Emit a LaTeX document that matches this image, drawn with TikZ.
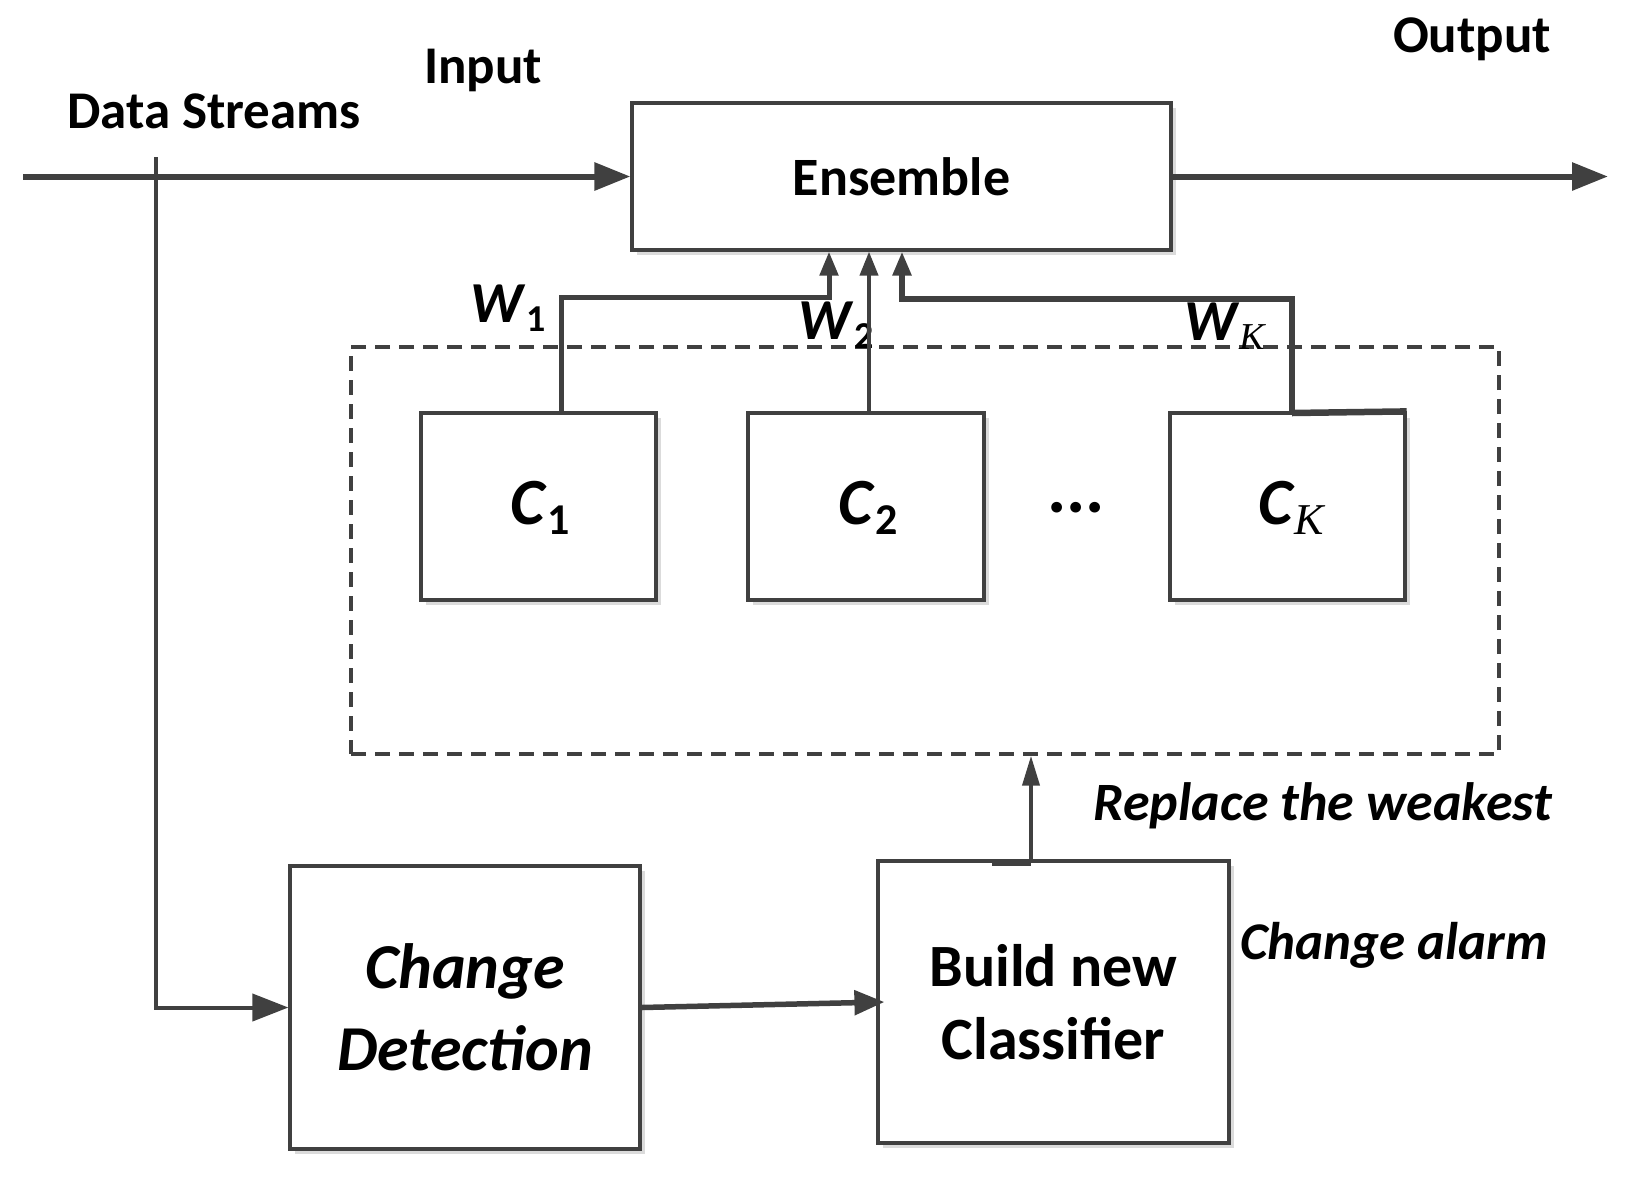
\documentclass[tikz,border=0pt]{standalone}
\usepackage{fontspec}
\setmainfont{Carlito}
\newfontfamily\tms{Liberation Serif}
\usetikzlibrary{arrows.meta,calc,shadows}
\definecolor{ln}{HTML}{404040}
\tikzset{
  x=1pt, y=-1pt,
  box/.style={draw=ln, line width=3.2pt, fill=white, inner sep=0pt,
    drop shadow={shadow xshift=5pt, shadow yshift=-5pt, fill=black!14, opacity=1}},
  conn/.style={draw=ln, line width=5pt},
  big/.style={-{Triangle[length=36pt,width=27pt]}},
  warr/.style={-{Triangle[length=24pt,width=18pt]}},
  lbl/.style={inner sep=0pt, text=black},
}
\begin{document}
\begin{tikzpicture}
\useasboundingbox (0,0) rectangle (1646,1179);
% dashed pool
\node[draw=ln, line width=3.4pt, dash pattern=on 15pt off 9pt, minimum width=1148pt, minimum height=407pt, inner sep=0pt] (pool) at (925,550.5) {};
% boxes
\node[box, minimum width=539pt, minimum height=147pt, font=\fontsize{54}{60}\selectfont\bfseries] (ens) at (901.5,176.5) {Ensemble};
\node[box, minimum width=235pt, minimum height=187pt] (c1) at (538.5,506.5) {};
\node[box, minimum width=236pt, minimum height=187pt] (c2) at (866,506.5) {};
\node[box, minimum width=235pt, minimum height=187pt] (ck) at (1287.5,506.5) {};
\node[box, minimum width=350pt, minimum height=283pt, align=center, font=\fontsize{64}{82}\selectfont\bfseries\itshape] (cd) at (465,1007.5) {Change\\Detection};
\node[box, minimum width=351pt, minimum height=282pt, align=center, font=\fontsize{60}{73}\selectfont\bfseries] (bld) at (1053.5,1002) {Build new\\Classifier};
% classifier labels
\node[lbl, font=\fontsize{66}{70}\selectfont\bfseries] (l1) at (540,508) {\textit{C}\raisebox{-0.16em}{\fontsize{44}{44}\selectfont 1}};
\node[lbl, font=\fontsize{66}{70}\selectfont\bfseries] (l2) at (868,508) {\textit{C}\raisebox{-0.16em}{\fontsize{44}{44}\selectfont 2}};
\node[lbl, font=\fontsize{66}{70}\selectfont\bfseries] (lk) at (1291,508) {\textit{C}\raisebox{-0.16em}{\fontsize{44}{44}\selectfont\tms\mdseries\itshape K}};
\node[lbl, font=\fontsize{72}{72}\selectfont\bfseries] (dots) at (1076,508) {...};
% text labels
\node[lbl, font=\fontsize{53}{60}\selectfont\bfseries] (tds) at (214,111) {Data Streams};
\node[lbl, font=\fontsize{53}{60}\selectfont\bfseries] (tin) at (483,70) {Input};
\node[lbl, font=\fontsize{53}{60}\selectfont\bfseries] (tout) at (1472,39) {Output};
\node[lbl, font=\fontsize{54}{60}\selectfont\bfseries\itshape] (trep) at (1323,806) {Replace the weakest};
\node[lbl, font=\fontsize{53}{60}\selectfont\bfseries\itshape] (talarm) at (1394,945) {Change alarm};
\node[lbl, font=\fontsize{58}{60}\selectfont\bfseries] (w1) at (508,308) {\textit{W}\raisebox{-0.16em}{\fontsize{38}{38}\selectfont 1}};
\node[lbl, font=\fontsize{58}{60}\selectfont\bfseries] (w2) at (836,325) {\textit{W}\raisebox{-0.16em}{\fontsize{38}{38}\selectfont 2}};
\node[lbl, font=\fontsize{58}{60}\selectfont\bfseries] (wk) at (1225,326) {\textit{W}\raisebox{-0.16em}{\fontsize{38}{38}\selectfont\tms\mdseries\itshape K}};
% coordinates
\coordinate (in) at (23,176.5);
\coordinate (out) at (1608,176.5);
\coordinate (ds) at (156,157);
\coordinate (t1) at (829,297);
\coordinate (tk) at (902,299);
\coordinate (ckr) at (1292,413);
\coordinate (rp) at (1031,862);
\coordinate (rps) at (992,862);
% connectors
\draw[conn, line width=6pt, big] (in) -- (ens.west);
\draw[conn, line width=6pt, big] (ens.east) -- (out);
\draw[conn, line width=4pt, big] (ds) |- (cd.west);
\draw[conn, line width=5.5pt, -{Triangle[length=30pt,width=24pt]}] (cd.east) -- ([xshift=8pt]bld.west);
\draw[conn, warr] ([xshift=22.5pt]c1.north) |- (t1) -- (t1 |- ens.south);
\draw[conn, line width=4pt, warr] ([xshift=3pt]c2.north) -- ([xshift=3pt]c2.north |- ens.south);
\draw[conn, line width=6.5pt] (ck.north east) -- (ckr);
\draw[conn, line width=5.5pt, warr] (ckr) |- (tk) -- (tk |- ens.south);
\draw[conn, line width=7pt] (rps) -- (rp);
\draw[conn, line width=4pt, -{Triangle[length=30pt,width=17pt]}] (rp) -- (rp |- pool.south);
\end{tikzpicture}
\end{document}
